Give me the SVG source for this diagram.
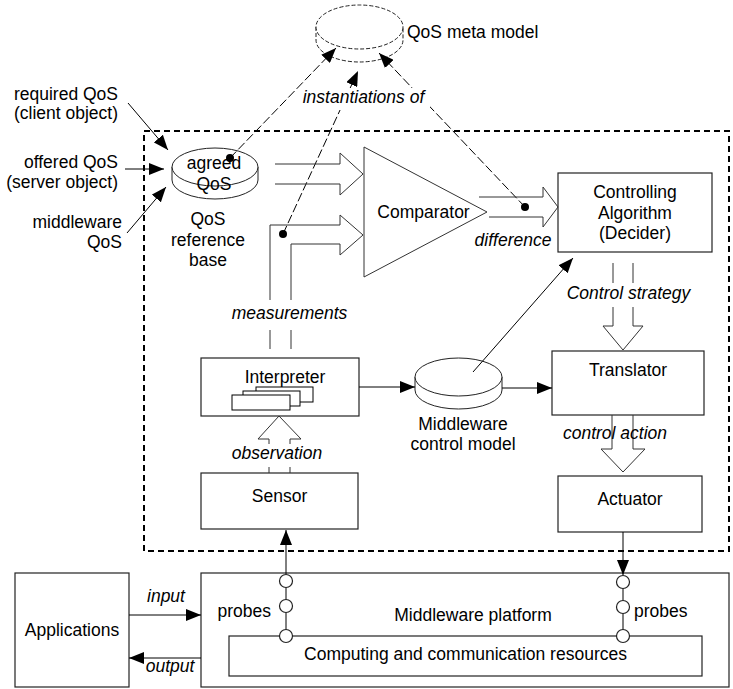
<svg xmlns="http://www.w3.org/2000/svg" width="733" height="689" viewBox="0 0 733 689">
<defs>
<marker id="ah" markerUnits="userSpaceOnUse" markerWidth="16" markerHeight="12" refX="15" refY="6" orient="auto" viewBox="0 0 16 12">
<path d="M0,0 L15,6 L0,12 z" fill="#000"/>
</marker>
<style>
text{font-family:"Liberation Sans",Arial,Helvetica,sans-serif;font-size:17.5px;fill:#000}
.it{font-style:italic}
.m{text-anchor:middle}
.e{text-anchor:end}
.box{fill:#fff;stroke:#222;stroke-width:1.2}
.ln{fill:none;stroke:#000;stroke-width:1}
.hol{fill:none;stroke:#333;stroke-width:1}
.dd{fill:none;stroke:#000;stroke-width:1;stroke-dasharray:9,3}
.cyl{fill:#fff;stroke:#222;stroke-width:1}
.dcyl{fill:#fff;stroke:#222;stroke-width:1;stroke-dasharray:4,2}
.dot{fill:#000}
.circ{fill:#fff;stroke:#222;stroke-width:1.2}
</style>
</defs>

<g id="boundary">
<rect x="144" y="131" width="585" height="420" fill="none" stroke="#000" stroke-width="2" stroke-dasharray="6,4"/>
</g>

<g id="qos-meta-model">
<path class="dcyl" d="M316,27 V40 A43.5,22 0 0 0 403,40 V27"/>
<ellipse class="dcyl" cx="359.5" cy="27" rx="43.5" ry="22"/>
<text x="407" y="38">QoS meta model</text>
</g>

<g id="input-labels">
<text class="e" x="118" y="100">required QoS</text>
<text class="e" x="118" y="119">(client object)</text>
<text class="e" x="118" y="168">offered QoS</text>
<text class="e" x="118" y="188">(server object)</text>
<text class="e" x="122" y="228">middleware</text>
<text class="e" x="122" y="248">QoS</text>
</g>

<g id="agreed-qos">
<path class="cyl" d="M172,167 V180 A43,19 0 0 0 258,180 V167"/>
<ellipse class="cyl" cx="215" cy="167" rx="43" ry="19"/>
<text class="m" x="214" y="169">agreed</text>
<text class="m" x="214" y="190">QoS</text>
<text class="m" x="208" y="225">QoS</text>
<text class="m" x="208" y="246">reference</text>
<text class="m" x="208" y="266">base</text>
</g>

<g id="comparator">
<path d="M364,147 L487,212 L364,277 z" fill="#fff" stroke="#333" stroke-width="1"/>
<text class="m" x="423.5" y="218">Comparator</text>
</g>

<g id="controlling-algorithm">
<rect class="box" x="558" y="173" width="154" height="79"/>
<text class="m" x="635" y="198">Controlling</text>
<text class="m" x="635" y="219">Algorithm</text>
<text class="m" x="635" y="239">(Decider)</text>
</g>

<g id="interpreter">
<rect class="box" x="201" y="358" width="158" height="58"/>
<text class="m" x="285" y="383">Interpreter</text>
<rect x="256" y="387" width="57" height="15" fill="#fff" stroke="#000" stroke-width="1"/>
<rect x="243" y="391" width="57" height="15" fill="#fff" stroke="#000" stroke-width="1"/>
<rect x="232" y="395" width="58" height="15" fill="#fff" stroke="#000" stroke-width="1"/>
</g>

<g id="middleware-control-model">
<path class="cyl" d="M415,377 V390 A43.5,19 0 0 0 502,390 V377"/>
<ellipse class="cyl" cx="458.5" cy="377" rx="43.5" ry="19"/>
<text class="m" x="463" y="430">Middleware</text>
<text class="m" x="463" y="450">control model</text>
</g>

<g id="translator">
<rect class="box" x="552" y="351" width="152" height="64"/>
<text class="m" x="628" y="376">Translator</text>
</g>

<g id="sensor">
<rect class="box" x="201" y="473" width="157" height="56"/>
<text class="m" x="279.5" y="502">Sensor</text>
</g>

<g id="actuator">
<rect class="box" x="558" y="476" width="144" height="56"/>
<text class="m" x="630" y="505">Actuator</text>
</g>

<g id="applications">
<rect class="box" x="15" y="573" width="114" height="114"/>
<text class="m" x="72" y="636">Applications</text>
</g>

<g id="middleware-platform">
<rect class="box" x="201" y="573" width="528" height="114"/>
<text class="m" x="473" y="621">Middleware platform</text>
<rect class="box" x="229" y="636" width="473" height="40"/>
<text class="m" x="465.5" y="660">Computing and communication resources</text>
</g>

<g id="connectors">
<!-- meta model instantiation links -->
<line class="dd" x1="230" y1="158" x2="336" y2="48" marker-end="url(#ah)"/>
<line class="dd" x1="283" y1="234" x2="358" y2="71" marker-end="url(#ah)"/>
<line class="dd" x1="525" y1="207" x2="379" y2="53" marker-end="url(#ah)"/>
<rect x="298" y="88" width="132" height="22" fill="#fff"/>
<text class="it m" x="363.5" y="103">instantiations of</text>

<!-- QoS inputs -->
<line class="ln" x1="128" y1="103" x2="168" y2="150" marker-end="url(#ah)"/>
<line class="ln" x1="125" y1="169" x2="164" y2="169" marker-end="url(#ah)"/>
<line class="ln" x1="127" y1="233" x2="166" y2="187" marker-end="url(#ah)"/>

<!-- hollow arrows -->
<path class="hol" d="M275,164 H340 V153 L363,174 L340,195 V184 H275"/>
<path class="hol" d="M270,300 V225 H340 V215 L363,235 L340,255 V244 H291 V300"/>
<path class="hol" d="M270,330 V349 M291,330 V349"/>
<text class="it m" x="289.5" y="319">measurements</text>

<path class="hol" d="M479,197 H543 V187 L558,207 L543,227 V217 H489"/>
<text class="it m" x="513" y="246">difference</text>

<path class="hol" d="M613,263 V283 M633,263 V283"/>
<path class="hol" d="M613,307 V326 H603 L623,350 L643,326 H633 V307"/>
<text class="it m" x="628.5" y="299">Control strategy</text>

<path class="hol" d="M612,415 V449 H601 L623,472 L645,449 H633 V415"/>
<text class="it m" x="615" y="439">control action</text>

<path class="hol" d="M269,444 V439 H258 L279,416 L301,439 H290 V444"/>
<path class="hol" d="M269,467 V473 M290,467 V473"/>
<text class="it m" x="277" y="459">observation</text>

<!-- dots -->
<circle class="dot" cx="230" cy="158" r="4"/>
<circle class="dot" cx="283" cy="234" r="4"/>
<circle class="dot" cx="525" cy="207" r="4"/>

<!-- solid arrows -->
<line class="ln" x1="359" y1="387" x2="415" y2="387" marker-end="url(#ah)"/>
<line class="ln" x1="502" y1="388" x2="552" y2="388" marker-end="url(#ah)"/>
<line class="ln" x1="473" y1="372" x2="573" y2="258" marker-end="url(#ah)"/>

<line class="ln" x1="286" y1="574" x2="286" y2="530" marker-end="url(#ah)"/>
<line class="ln" x1="623" y1="532" x2="623" y2="575" marker-end="url(#ah)"/>

<line class="ln" x1="286" y1="581" x2="286" y2="636"/>
<line class="ln" x1="623" y1="582" x2="623" y2="636"/>
<circle class="circ" cx="286" cy="581" r="6.5"/>
<circle class="circ" cx="286" cy="606" r="6.5"/>
<circle class="circ" cx="286" cy="636" r="6.5"/>
<circle class="circ" cx="623" cy="582" r="6.5"/>
<circle class="circ" cx="623" cy="607" r="6.5"/>
<circle class="circ" cx="623" cy="636" r="6.5"/>
<text class="e" x="271" y="617">probes</text>
<text x="634" y="617">probes</text>

<line class="ln" x1="129" y1="615" x2="201" y2="615" marker-end="url(#ah)"/>
<text class="it m" x="166" y="602">input</text>
<line class="ln" x1="201" y1="658" x2="129" y2="658" marker-end="url(#ah)"/>
<text class="it m" x="170" y="672">output</text>
</g>
</svg>
